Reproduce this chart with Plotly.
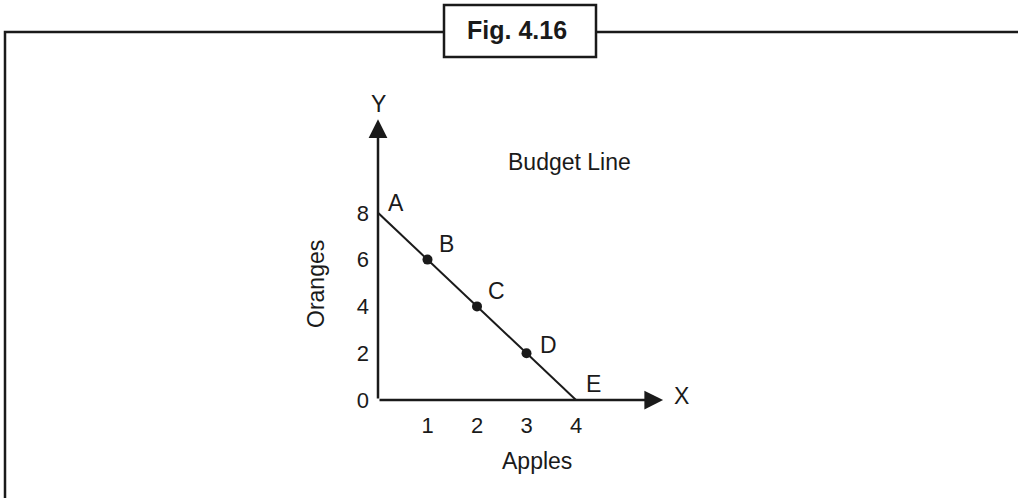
import plotly.graph_objects as go

# Data
apples = [0, 1, 2, 3, 4]
oranges = [8, 6, 4, 2, 0]
point_labels = ["A", "B", "C", "D", "E"]
marked = [False, True, True, True, False]
x_ticks = [1, 2, 3, 4]
y_ticks = [0, 2, 4, 6, 8]

W, H = 1018, 498
FONT = "Liberation Sans, Arial, sans-serif"
INK = "#1a1a1a"

# pixel geometry of the axes (styling)
x0_px, y0_px = 378, 400
px_per_x, px_per_y = 49.5, 23.4
xr, yr = 8, 14


def paper(px, py):
    return px / W, (H - py) / H


fig = go.Figure()

# Budget line
fig.add_trace(go.Scatter(x=apples, y=oranges, mode="lines",
                         line=dict(color=INK, width=2), hoverinfo="skip"))
# Marked points
fig.add_trace(go.Scatter(x=[a for a, m in zip(apples, marked) if m],
                         y=[o for o, m in zip(oranges, marked) if m],
                         mode="markers", marker=dict(color=INK, size=10),
                         hoverinfo="skip"))

shifts = {"A": (18, 10), "B": (19, 16), "C": (19, 15), "D": (22, 8), "E": (17, 16)}
for a, o, lab in zip(apples, oranges, point_labels):
    dx, dy = shifts[lab]
    fig.add_annotation(x=a, y=o, text=lab, showarrow=False, xshift=dx, yshift=dy,
                       xanchor="center", yanchor="middle",
                       font=dict(family=FONT, size=23, color=INK))

# Axes arrows
fig.add_annotation(x=5.76, y=0, ax=0, ay=0, axref="x", ayref="y", xref="x", yref="y",
                   text="", showarrow=True, arrowhead=2, arrowsize=1.5, arrowwidth=2.5,
                   arrowcolor=INK)
fig.add_annotation(x=0, y=12.0, ax=0, ay=0, axref="x", ayref="y", xref="x", yref="y",
                   text="", showarrow=True, arrowhead=2, arrowsize=1.5, arrowwidth=2.5,
                   arrowcolor=INK)

for txt, (px, py), extra in [
    ("X", (681, 396), {}),
    ("Y", (378, 104), {}),
    ("Budget Line", (569, 162), {}),
    ("Apples", (537, 461), {}),
    ("Oranges", (316, 284), {"textangle": -90}),
]:
    xp, yp = paper(px, py)
    fig.add_annotation(x=xp, y=yp, xref="paper", yref="paper", text=txt, showarrow=False,
                       xanchor="center", yanchor="middle",
                       font=dict(family=FONT, size=23, color=INK),
                       **extra)

# Frame
fx0, fy0 = paper(5, 32)
fig.add_shape(type="rect", xref="paper", yref="paper", x0=fx0, y0=-0.05, x1=1.05, y1=fy0,
              line=dict(color=INK, width=2.5), layer="below")
bx0, by0 = paper(444, 57)
bx1, by1 = paper(596, 5)
fig.add_shape(type="rect", xref="paper", yref="paper", x0=bx0, y0=by0, x1=bx1, y1=by1,
              line=dict(color=INK, width=2.5), fillcolor="white")
tx, ty = paper(517, 30)
fig.add_annotation(x=tx, y=ty, xref="paper", yref="paper", text="<b>Fig. 4.16</b>",
                   showarrow=False, xanchor="center", yanchor="middle",
                   font=dict(family=FONT, size=25, color=INK))

fig.update_layout(
    width=W, height=H, margin=dict(l=0, r=0, t=0, b=0, pad=0),
    paper_bgcolor="white", plot_bgcolor="white", showlegend=False,
    xaxis=dict(range=[0, xr], automargin=False,
               domain=[x0_px / W, (x0_px + xr * px_per_x) / W],
               tickvals=x_ticks, showgrid=False, zeroline=False, showline=False,
               ticks="", ticklabelstandoff=10,
               tickfont=dict(family=FONT, size=22, color=INK)),
    yaxis=dict(range=[0, yr], automargin=False,
               domain=[(H - y0_px) / H, (H - y0_px + yr * px_per_y) / H],
               tickvals=y_ticks, showgrid=False, zeroline=False, showline=False,
               ticks="", ticklabelstandoff=8,
               tickfont=dict(family=FONT, size=22, color=INK)),
)

fig.write_html(
    "out.html",
    post_script="document.body.style.margin='0';document.body.style.overflow='hidden';",
    config={"displayModeBar": False},
)
